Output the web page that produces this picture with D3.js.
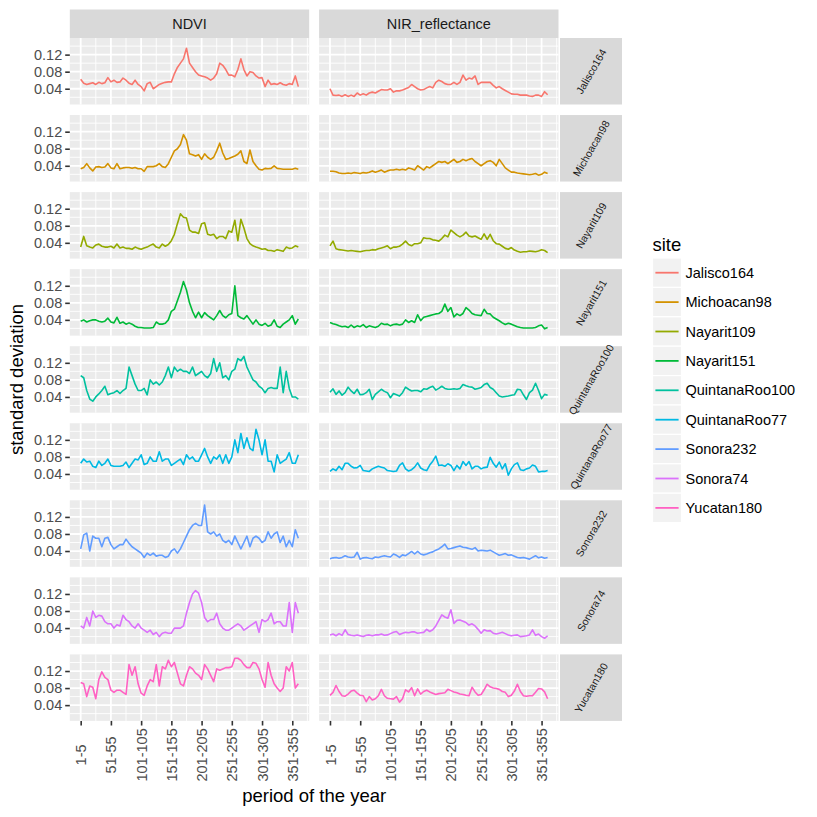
<!DOCTYPE html>
<html><head><meta charset="utf-8">
<script src="https://cdn.jsdelivr.net/npm/d3@7"></script>
<style>body{margin:0;background:#fff}svg{display:block;font-family:"Liberation Sans",Arial,Helvetica,sans-serif}</style>
</head><body>
<svg id="chart" width="817" height="817"></svg>
<script>
// ---- data ----
const sites = ["Jalisco164","Michoacan98","Nayarit109","Nayarit151","QuintanaRoo100","QuintanaRoo77","Sonora232","Sonora74","Yucatan180"];
const variables = ["NDVI","NIR_reflectance"];
const siteColors = ["#F8766D","#D39200","#93AA00","#00BA38","#00C19F","#00B9E3","#619CFF","#DB72FB","#FF61C3"];
const periods = d3.range(73).map(i => (5*i+1) + "-" + (5*i+5));
const xTickLabels = ["1-5","51-55","101-105","151-155","201-205","251-255","301-305","351-355"];
const yTicks = [0.04, 0.08, 0.12];

const ndviJalisco164 = [0.062,0.053,0.050,0.052,0.054,0.050,0.055,0.052,0.054,0.066,
 0.056,0.060,0.055,0.056,0.065,0.060,0.053,0.050,0.060,0.050,
 0.045,0.035,0.052,0.055,0.040,0.045,0.050,0.053,0.055,0.056,
 0.056,0.075,0.090,0.100,0.110,0.135,0.100,0.090,0.080,0.072,
 0.070,0.068,0.065,0.060,0.065,0.075,0.100,0.095,0.085,0.072,
 0.072,0.068,0.085,0.110,0.085,0.070,0.080,0.078,0.070,0.065,
 0.066,0.045,0.060,0.050,0.052,0.050,0.054,0.050,0.048,0.052,
 0.050,0.070,0.045];
const ndviMichoacan98 = [0.033,0.036,0.045,0.035,0.028,0.037,0.038,0.036,0.037,0.045,
 0.035,0.033,0.045,0.033,0.035,0.036,0.036,0.034,0.036,0.033,
 0.033,0.027,0.038,0.038,0.038,0.040,0.045,0.038,0.036,0.045,
 0.060,0.075,0.080,0.090,0.113,0.100,0.068,0.066,0.063,0.066,
 0.055,0.068,0.060,0.055,0.060,0.075,0.093,0.070,0.055,0.057,
 0.060,0.063,0.067,0.075,0.050,0.045,0.077,0.050,0.040,0.032,
 0.030,0.034,0.033,0.034,0.040,0.034,0.033,0.032,0.032,0.032,
 0.032,0.034,0.032];
const ndviNayarit109 = [0.030,0.055,0.033,0.030,0.028,0.035,0.037,0.032,0.030,0.030,
 0.032,0.028,0.037,0.028,0.030,0.027,0.027,0.025,0.030,0.027,
 0.025,0.028,0.030,0.034,0.037,0.030,0.028,0.037,0.032,0.036,
 0.045,0.060,0.085,0.108,0.100,0.098,0.070,0.065,0.065,0.062,
 0.085,0.087,0.060,0.058,0.060,0.050,0.055,0.055,0.050,0.068,
 0.065,0.093,0.045,0.095,0.075,0.050,0.038,0.033,0.030,0.028,
 0.025,0.026,0.022,0.022,0.020,0.024,0.022,0.020,0.030,0.027,
 0.028,0.033,0.030];
const ndviNayarit151 = [0.037,0.040,0.035,0.038,0.040,0.040,0.037,0.035,0.037,0.044,
 0.035,0.033,0.046,0.032,0.035,0.030,0.033,0.030,0.025,0.022,
 0.022,0.021,0.021,0.021,0.022,0.035,0.030,0.030,0.032,0.040,
 0.060,0.065,0.085,0.105,0.130,0.110,0.080,0.060,0.045,0.058,
 0.045,0.057,0.050,0.045,0.040,0.050,0.062,0.050,0.045,0.052,
 0.055,0.120,0.050,0.045,0.042,0.050,0.040,0.030,0.040,0.030,
 0.027,0.032,0.025,0.028,0.040,0.025,0.022,0.030,0.035,0.040,
 0.050,0.030,0.042];
const ndviQuintanaRoo100 = [0.090,0.085,0.055,0.035,0.030,0.040,0.047,0.055,0.065,0.045,
 0.048,0.050,0.055,0.048,0.055,0.060,0.110,0.090,0.070,0.055,
 0.055,0.060,0.045,0.080,0.070,0.075,0.068,0.075,0.090,0.110,
 0.085,0.110,0.100,0.105,0.100,0.100,0.095,0.110,0.090,0.095,
 0.100,0.090,0.085,0.095,0.130,0.100,0.120,0.085,0.090,0.080,
 0.100,0.105,0.130,0.125,0.135,0.110,0.095,0.080,0.075,0.065,
 0.060,0.050,0.060,0.062,0.060,0.060,0.110,0.050,0.100,0.060,
 0.040,0.040,0.035];
const ndviQuintanaRoo77 = [0.065,0.075,0.068,0.070,0.058,0.055,0.070,0.060,0.065,0.075,
 0.060,0.058,0.058,0.058,0.060,0.068,0.055,0.065,0.075,0.073,
 0.085,0.062,0.065,0.080,0.070,0.070,0.092,0.070,0.075,0.075,
 0.060,0.065,0.070,0.075,0.062,0.085,0.075,0.080,0.070,0.070,
 0.085,0.100,0.080,0.065,0.080,0.075,0.085,0.065,0.085,0.065,
 0.080,0.120,0.090,0.135,0.100,0.125,0.100,0.095,0.145,0.120,
 0.085,0.120,0.070,0.070,0.045,0.085,0.065,0.070,0.075,0.090,
 0.065,0.065,0.085];
const ndviSonora232 = [0.045,0.078,0.082,0.040,0.075,0.070,0.070,0.050,0.070,0.072,
 0.055,0.045,0.050,0.055,0.055,0.068,0.058,0.050,0.045,0.040,
 0.035,0.025,0.035,0.030,0.035,0.028,0.030,0.030,0.025,0.028,
 0.040,0.045,0.035,0.045,0.060,0.075,0.090,0.100,0.105,0.100,
 0.100,0.148,0.085,0.080,0.085,0.075,0.080,0.065,0.060,0.065,
 0.055,0.075,0.060,0.045,0.060,0.075,0.050,0.070,0.075,0.070,
 0.060,0.065,0.085,0.070,0.080,0.085,0.060,0.075,0.050,0.065,
 0.050,0.090,0.070];
const ndviSonora74 = [0.045,0.040,0.065,0.045,0.080,0.065,0.070,0.068,0.055,0.050,
 0.050,0.040,0.048,0.045,0.070,0.060,0.055,0.045,0.040,0.050,
 0.040,0.035,0.030,0.035,0.025,0.030,0.020,0.028,0.030,0.028,
 0.028,0.040,0.040,0.040,0.045,0.075,0.100,0.120,0.128,0.122,
 0.100,0.065,0.055,0.060,0.060,0.075,0.050,0.040,0.035,0.035,
 0.040,0.045,0.050,0.045,0.035,0.040,0.045,0.050,0.055,0.030,
 0.060,0.055,0.060,0.075,0.050,0.055,0.055,0.045,0.045,0.100,
 0.030,0.100,0.075];
const ndviYucatan180 = [0.093,0.090,0.060,0.085,0.082,0.055,0.100,0.118,0.105,0.100,
 0.075,0.070,0.075,0.075,0.070,0.065,0.135,0.110,0.130,0.090,
 0.068,0.063,0.085,0.100,0.095,0.135,0.085,0.130,0.125,0.145,
 0.130,0.140,0.115,0.090,0.085,0.110,0.130,0.125,0.115,0.110,
 0.100,0.135,0.125,0.110,0.095,0.125,0.122,0.125,0.128,0.128,
 0.130,0.150,0.150,0.145,0.135,0.128,0.128,0.140,0.138,0.125,
 0.100,0.082,0.140,0.110,0.090,0.080,0.072,0.080,0.130,0.120,
 0.140,0.080,0.090];

const nirJalisco164 = [0.040,0.025,0.024,0.025,0.022,0.026,0.022,0.025,0.022,0.030,
 0.025,0.028,0.025,0.030,0.032,0.030,0.034,0.038,0.037,0.037,
 0.040,0.032,0.035,0.035,0.037,0.040,0.043,0.050,0.045,0.040,
 0.037,0.038,0.042,0.045,0.042,0.055,0.060,0.057,0.052,0.050,
 0.050,0.055,0.050,0.055,0.072,0.060,0.065,0.063,0.070,0.050,
 0.055,0.055,0.055,0.055,0.048,0.042,0.045,0.040,0.036,0.032,
 0.028,0.027,0.027,0.025,0.025,0.025,0.023,0.022,0.025,0.025,
 0.022,0.033,0.026];
const nirMichoacan98 = [0.027,0.027,0.026,0.023,0.022,0.022,0.023,0.022,0.024,0.023,
 0.022,0.024,0.023,0.025,0.028,0.025,0.027,0.030,0.025,0.028,
 0.030,0.030,0.032,0.030,0.032,0.030,0.035,0.033,0.030,0.040,
 0.035,0.030,0.038,0.035,0.040,0.045,0.050,0.048,0.050,0.045,
 0.050,0.055,0.048,0.050,0.055,0.052,0.055,0.057,0.050,0.045,
 0.040,0.045,0.050,0.052,0.048,0.040,0.055,0.045,0.035,0.030,
 0.025,0.025,0.023,0.022,0.021,0.020,0.019,0.020,0.022,0.018,
 0.020,0.025,0.022];
const nirNayarit109 = [0.033,0.044,0.026,0.024,0.023,0.022,0.021,0.022,0.021,0.020,
 0.019,0.021,0.022,0.022,0.024,0.023,0.026,0.028,0.030,0.033,
 0.026,0.030,0.030,0.032,0.037,0.044,0.036,0.033,0.038,0.038,
 0.040,0.052,0.050,0.050,0.047,0.046,0.044,0.050,0.058,0.054,
 0.070,0.064,0.058,0.054,0.058,0.065,0.056,0.054,0.056,0.052,
 0.048,0.061,0.048,0.060,0.045,0.038,0.037,0.032,0.027,0.025,
 0.029,0.023,0.020,0.018,0.019,0.019,0.021,0.020,0.019,0.021,
 0.024,0.022,0.017];
const nirNayarit151 = [0.034,0.031,0.029,0.026,0.024,0.025,0.022,0.028,0.022,0.026,
 0.024,0.029,0.022,0.026,0.024,0.022,0.025,0.032,0.029,0.030,
 0.026,0.029,0.030,0.028,0.030,0.040,0.034,0.038,0.034,0.052,
 0.038,0.046,0.048,0.050,0.052,0.054,0.055,0.060,0.077,0.060,
 0.069,0.047,0.054,0.050,0.055,0.069,0.063,0.055,0.052,0.051,
 0.050,0.065,0.055,0.054,0.046,0.042,0.038,0.033,0.029,0.032,
 0.030,0.027,0.024,0.022,0.021,0.021,0.021,0.021,0.022,0.026,
 0.028,0.019,0.022];
const nirQuintanaRoo100 = [0.051,0.059,0.046,0.054,0.044,0.050,0.063,0.054,0.048,0.058,
 0.045,0.046,0.050,0.058,0.034,0.046,0.052,0.058,0.053,0.050,
 0.038,0.048,0.045,0.042,0.050,0.063,0.058,0.054,0.055,0.055,
 0.052,0.059,0.058,0.062,0.065,0.056,0.060,0.065,0.060,0.058,
 0.058,0.059,0.058,0.060,0.069,0.066,0.064,0.063,0.058,0.060,
 0.062,0.069,0.072,0.062,0.058,0.050,0.042,0.040,0.041,0.042,
 0.044,0.045,0.058,0.057,0.045,0.034,0.050,0.056,0.072,0.055,
 0.036,0.046,0.044];
const nirQuintanaRoo77 = [0.046,0.052,0.048,0.058,0.050,0.065,0.065,0.058,0.054,0.055,
 0.060,0.048,0.047,0.046,0.052,0.055,0.058,0.056,0.054,0.048,
 0.047,0.046,0.047,0.060,0.066,0.052,0.047,0.050,0.056,0.066,
 0.054,0.050,0.048,0.061,0.070,0.082,0.060,0.061,0.058,0.064,
 0.060,0.048,0.060,0.052,0.069,0.060,0.069,0.052,0.058,0.058,
 0.052,0.055,0.056,0.079,0.065,0.056,0.068,0.052,0.064,0.037,
 0.052,0.062,0.066,0.050,0.048,0.052,0.054,0.061,0.058,0.045,
 0.046,0.046,0.048];
const nirSonora232 = [0.022,0.024,0.025,0.023,0.025,0.029,0.026,0.025,0.026,0.037,
 0.021,0.024,0.025,0.023,0.022,0.026,0.025,0.027,0.029,0.027,
 0.026,0.033,0.030,0.025,0.031,0.029,0.034,0.039,0.033,0.039,
 0.033,0.031,0.033,0.036,0.038,0.042,0.045,0.050,0.056,0.045,
 0.046,0.048,0.050,0.052,0.049,0.048,0.046,0.044,0.048,0.040,
 0.042,0.041,0.040,0.042,0.038,0.034,0.030,0.032,0.034,0.030,
 0.031,0.028,0.025,0.024,0.025,0.023,0.021,0.025,0.029,0.024,
 0.026,0.023,0.025];
const nirSonora74 = [0.024,0.026,0.022,0.027,0.023,0.036,0.025,0.023,0.022,0.024,
 0.022,0.020,0.023,0.024,0.022,0.024,0.024,0.026,0.023,0.024,
 0.027,0.030,0.032,0.025,0.028,0.030,0.029,0.031,0.031,0.028,
 0.029,0.030,0.037,0.032,0.036,0.045,0.058,0.071,0.066,0.063,
 0.083,0.051,0.058,0.059,0.056,0.053,0.047,0.050,0.045,0.037,
 0.028,0.036,0.033,0.034,0.028,0.026,0.028,0.030,0.027,0.024,
 0.022,0.023,0.024,0.020,0.021,0.022,0.024,0.036,0.023,0.026,
 0.020,0.016,0.022];
const nirYucatan180 = [0.063,0.070,0.086,0.072,0.062,0.061,0.066,0.073,0.075,0.068,
 0.063,0.062,0.048,0.060,0.052,0.055,0.062,0.077,0.062,0.056,
 0.055,0.054,0.060,0.047,0.055,0.076,0.071,0.081,0.062,0.078,
 0.066,0.072,0.075,0.071,0.068,0.065,0.067,0.068,0.069,0.077,
 0.074,0.071,0.069,0.066,0.065,0.063,0.062,0.082,0.071,0.063,
 0.065,0.076,0.089,0.083,0.080,0.079,0.077,0.072,0.070,0.060,
 0.063,0.073,0.089,0.072,0.062,0.061,0.062,0.062,0.070,0.079,
 0.078,0.071,0.055];

// table built from the arrays above
const table = {
  NDVI: [ndviJalisco164, ndviMichoacan98, ndviNayarit109, ndviNayarit151, ndviQuintanaRoo100, ndviQuintanaRoo77, ndviSonora232, ndviSonora74, ndviYucatan180],
  NIR_reflectance: [nirJalisco164, nirMichoacan98, nirNayarit109, nirNayarit151, nirQuintanaRoo100, nirQuintanaRoo77, nirSonora232, nirSonora74, nirYucatan180]
};

// ---- layout ----
const svg = d3.select("#chart");
const colX = [69.8, 319.1], pw = 239.4;
const rowTop0 = 38, pitch = 77.05, ph = 66.5;
const stripRightX = 560, stripRightW = 62;

const x = d3.scaleLinear().domain([-3.6, 75.6]).range([0, pw]);
const y = d3.scaleLinear().domain([0.003, 0.159]).range([ph, 0]);
const color = d3.scaleOrdinal().domain(sites).range(siteColors);

const xMajor = d3.range(0, 71, 10);
const xMinor = d3.range(5, 76, 10);
const yMinor = [0.02, 0.06, 0.10, 0.14];

svg.append("rect").attr("width", 817).attr("height", 817).attr("fill", "#fff");

// top strips
variables.forEach((v, c) => {
  svg.append("rect").attr("x", colX[c]).attr("y", 9.5).attr("width", pw).attr("height", 28.5).attr("fill", "#D9D9D9");
  svg.append("text").attr("x", colX[c] + pw / 2).attr("y", 23.8).attr("text-anchor", "middle")
    .attr("dominant-baseline", "central").attr("font-size", 14.5).attr("fill", "#1A1A1A").text(v);
});

const line = d3.line().x((d, i) => x(i)).y(d => y(d));

sites.forEach((s, r) => {
  const top = rowTop0 + r * pitch;
  variables.forEach((v, c) => {
    const g = svg.append("g").attr("transform", `translate(${colX[c]},${top})`);
    g.append("rect").attr("width", pw).attr("height", ph).attr("fill", "#EBEBEB");
    g.selectAll(".vmin").data(xMinor).join("line")
      .attr("x1", d => x(d)).attr("x2", d => x(d)).attr("y1", 0).attr("y2", ph)
      .attr("stroke", "#fff").attr("stroke-width", 0.9);
    g.selectAll(".hmin").data(yMinor).join("line")
      .attr("y1", d => y(d)).attr("y2", d => y(d)).attr("x1", 0).attr("x2", pw)
      .attr("stroke", "#fff").attr("stroke-width", 0.9);
    g.selectAll(".vmaj").data(xMajor).join("line")
      .attr("x1", d => x(d)).attr("x2", d => x(d)).attr("y1", 0).attr("y2", ph)
      .attr("stroke", "#fff").attr("stroke-width", 1.8);
    g.selectAll(".hmaj").data(yTicks).join("line")
      .attr("y1", d => y(d)).attr("y2", d => y(d)).attr("x1", 0).attr("x2", pw)
      .attr("stroke", "#fff").attr("stroke-width", 1.8);
    g.append("path").datum(table[v][r]).attr("d", line)
      .attr("fill", "none").attr("stroke", color(s)).attr("stroke-width", 1.6)
      .attr("stroke-linejoin", "round");

    if (c === 0) {
      const ax = g.append("g").call(d3.axisLeft(y).tickValues(yTicks).tickFormat(d3.format(".2f")).tickSize(4.6).tickPadding(3));
      ax.select(".domain").remove();
      ax.selectAll("line").attr("stroke", "#333").attr("stroke-width", 1.6);
      ax.selectAll("text").attr("fill", "#4D4D4D").attr("font-size", 14.5).attr("font-family", null);
    }
    if (r === sites.length - 1) {
      const ax = g.append("g").attr("transform", `translate(0,${ph})`)
        .call(d3.axisBottom(x).tickValues(xMajor).tickFormat((d, i) => xTickLabels[i]).tickSize(4.6));
      ax.select(".domain").remove();
      ax.selectAll("line").attr("stroke", "#333").attr("stroke-width", 1.6);
      ax.selectAll("text").attr("fill", "#4D4D4D").attr("font-size", 14.5).attr("font-family", null)
        .attr("transform", "translate(0,34) rotate(-90)").attr("text-anchor", "middle")
        .attr("x", 0).attr("y", 0).attr("dy", "0.35em");
    }
  });
  // right strip
  svg.append("rect").attr("x", stripRightX).attr("y", top).attr("width", stripRightW).attr("height", ph).attr("fill", "#D9D9D9");
  svg.append("text").attr("transform", `translate(${stripRightX + stripRightW / 2},${top + ph / 2}) rotate(-60)`)
    .attr("text-anchor", "middle").attr("dominant-baseline", "central")
    .attr("font-size", 10.5).attr("fill", "#1A1A1A").text(s);
});

// axis titles
svg.append("text").attr("x", (colX[0] + colX[1] + pw) / 2).attr("y", 802).attr("text-anchor", "middle")
  .attr("font-size", 18.5).attr("fill", "#000").text("period of the year");
svg.append("text").attr("transform", `translate(23,${rowTop0 + (8 * pitch + ph) / 2}) rotate(-90)`)
  .attr("text-anchor", "middle").attr("font-size", 18.5).attr("fill", "#000").text("standard deviation");

// legend
const lg = svg.append("g").attr("transform", "translate(652.5,0)");
lg.append("text").attr("x", 0).attr("y", 251).attr("font-size", 18.5).attr("fill", "#000").text("site");
const keyH = 29.4, keyTop = 258;
sites.forEach((s, i) => {
  const ky = keyTop + i * keyH;
  lg.append("rect").attr("x", 0).attr("y", ky).attr("width", 29).attr("height", keyH)
    .attr("fill", "#F2F2F2").attr("stroke", "#fff").attr("stroke-width", 1.2);
  lg.append("line").attr("x1", 2.9).attr("x2", 26.1).attr("y1", ky + keyH / 2).attr("y2", ky + keyH / 2)
    .attr("stroke", color(s)).attr("stroke-width", 1.8);
  lg.append("text").attr("x", 33).attr("y", ky + keyH / 2).attr("dominant-baseline", "central")
    .attr("font-size", 14.5).attr("fill", "#000").text(s);
});
</script>
</body></html>
